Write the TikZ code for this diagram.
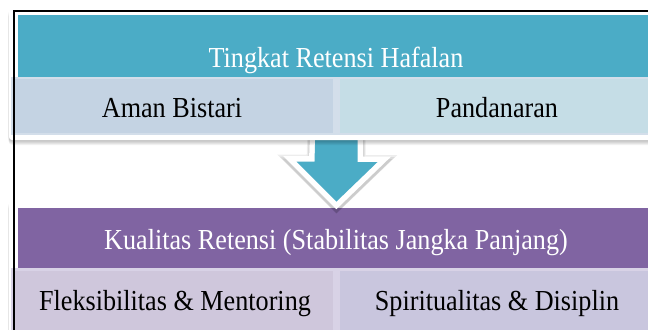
\documentclass[tikz,border=0pt]{standalone}
\usepackage{graphicx}
\usepackage{fontspec}
\setmainfont{Liberation Serif}
\definecolor{hdrteal}{HTML}{4BACC6}
\definecolor{hdrpurple}{HTML}{8064A2}
\definecolor{rowtopbg}{HTML}{D3DEEA}
\definecolor{celltl}{HTML}{C4D3E3}
\definecolor{celltr}{HTML}{C5DDE6}
\definecolor{rowbotbg}{HTML}{D8D2E6}
\definecolor{cellbl}{HTML}{CFC7DC}
\definecolor{cellbr}{HTML}{C9C6DE}
\newcommand{\tallify}[1]{\scalebox{1.01}[1.12]{#1}}
\begin{document}
\begin{tikzpicture}[x=1bp,y=-1bp,
  band/.style={inner sep=0pt,outer sep=0pt,draw=none,anchor=north west},
  txt/.style={font=\fontsize{26}{30}\selectfont,anchor=base,inner sep=0pt},
  hdrtxt/.style={txt,text=white},
  celltxt/.style={txt,text=black},
  panelshadow/.style={fill=black,opacity=0.05,rounded corners=4bp},
  panel/.style={fill=white,rounded corners=3bp},
  frameline/.style={draw=black,line width=2.2bp,line join=miter}]
\useasboundingbox (0,0) rectangle (648,329);
\fill[white] (0,0) rectangle (648,329);

% ---------- bottom group ----------
\foreach \d in {1,2,3,4,5}
  \fill[panelshadow] (8.5,{200+\d}) rectangle (666,{336+\d});
\fill[panel] (9,200) rectangle (665,336);
\node[band,fill=hdrpurple,minimum width=638bp,minimum height=60bp] (hb) at (18,208) {};
\node[band,fill=rowbotbg,minimum width=652bp,minimum height=70bp] (rb) at (11,268) {};
\node[band,fill=cellbl,minimum width=319bp,minimum height=66bp] (cbl) at (13.5,270.5) {};
\node[band,fill=cellbr,minimum width=321bp,minimum height=66bp] (cbr) at (340,270.5) {};
\node[hdrtxt] (thb) at (336,249) {\tallify{Kualitas Retensi (Stabilitas Jangka Panjang)}};
\node[celltxt] (tbl) at (175,310) {\tallify{Fleksibilitas \& Mentoring}};
\node[celltxt] (tbr) at (497,310) {\tallify{Spiritualitas \& Disiplin}};

% ---------- arrow ----------
\coordinate (arrtop) at (336.5,128);
\coordinate (arrtip) at (336.5,201.5);
\begin{scope}
  \foreach \d/\w in {1/16,2/14,3/12}
    \draw[black,opacity=0.07,line width=\w bp,line join=miter,miter limit=4]
      ([shift={(0,\d)}]arrtop) ++(-21,0) -- ++(42,0) -- ++(0,34) -- ++(20,0)
      -- ([shift={(0,\d)}]arrtip) -- ++(-40,-40) -- ++(18,0) -- cycle;
  \draw[white,line width=11bp,line join=miter,miter limit=4]
    (arrtop) ++(-21,0) -- ++(42,0) -- ++(0,34) -- ++(20,0) -- (arrtip)
    -- ++(-40,-40) -- ++(18,0) -- cycle;
  \fill[hdrteal]
    (arrtop) ++(-21,0) -- ++(42,0) -- ++(0,34) -- ++(20,0) -- (arrtip)
    -- ++(-40,-40) -- ++(18,0) -- cycle;
\end{scope}

% ---------- top group ----------
\foreach \d in {1,2,3,4,5}
  \fill[panelshadow] (8.5,{8+\d}) rectangle (666,{140+\d});
\fill[panel] (9,8) rectangle (665,140);
\node[band,fill=hdrteal,minimum width=638bp,minimum height=62bp] (ht) at (18,15) {};
\node[band,fill=rowtopbg,minimum width=652bp,minimum height=58bp] (rt) at (11,77) {};
\node[band,fill=celltl,minimum width=319bp,minimum height=54bp] (ctl) at (13.5,79) {};
\node[band,fill=celltr,minimum width=321bp,minimum height=54bp] (ctr) at (340,79) {};
\node[hdrtxt] (tht) at (336,67.5) {\tallify{Tingkat Retensi Hafalan}};
\node[celltxt] (ttl) at (172,117) {\tallify{Aman Bistari}};
\node[celltxt] (ttr) at (497,117) {\tallify{Pandanaran}};

% ---------- frame ----------
\coordinate (fr1) at (652,11);
\coordinate (fr2) at (13.8,11);
\coordinate (fr3) at (13.8,333);
\draw[frameline] (fr1) -- (fr2) -- (fr3);
\end{tikzpicture}
\end{document}
